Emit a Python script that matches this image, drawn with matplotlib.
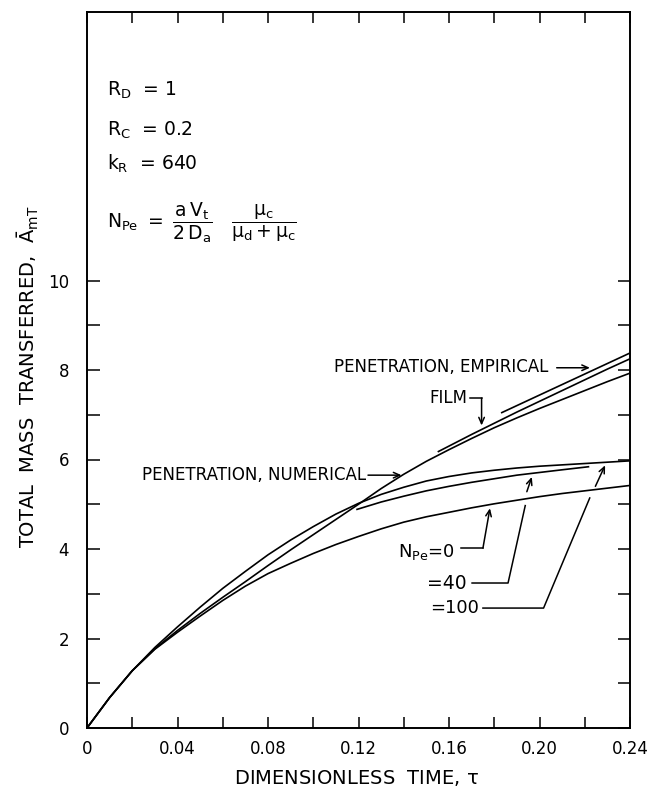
import matplotlib
matplotlib.use("Agg")
import matplotlib.pyplot as plt
import numpy as np

# ---------------- data ----------------
tau = [0.00, 0.01, 0.02, 0.03, 0.04, 0.05, 0.06, 0.07, 0.08, 0.09, 0.10, 0.11,
       0.12, 0.13, 0.14, 0.15, 0.16, 0.17, 0.18, 0.19, 0.20, 0.21, 0.22, 0.23, 0.24]
a_pe100 = [0.00, 0.68, 1.28, 1.80, 2.26, 2.70, 3.12, 3.50, 3.87, 4.20, 4.50, 4.78,
           5.02, 5.22, 5.38, 5.52, 5.62, 5.70, 5.76, 5.81, 5.85, 5.88, 5.91, 5.94, 5.97]
a_pen_num = [0.00, 0.68, 1.28, 1.77, 2.18, 2.56, 2.92, 3.27, 3.63, 3.98, 4.32, 4.66,
             5.00, 5.35, 5.67, 5.96, 6.22, 6.47, 6.71, 6.93, 7.14, 7.34, 7.54, 7.74, 7.93]
a_pe0 = [0.00, 0.68, 1.28, 1.76, 2.14, 2.50, 2.85, 3.17, 3.45, 3.68, 3.90, 4.10,
         4.28, 4.45, 4.60, 4.72, 4.82, 4.92, 5.01, 5.09, 5.17, 5.24, 5.30, 5.36, 5.42]
tau_pe40 = [0.119, 0.13, 0.14, 0.15, 0.16, 0.17, 0.18, 0.19, 0.20, 0.21, 0.222]
a_pe40 = [4.88, 5.05, 5.18, 5.30, 5.40, 5.49, 5.57, 5.65, 5.71, 5.77, 5.84]
tau_film = [0.155, 0.17, 0.18, 0.19, 0.20, 0.21, 0.22, 0.23, 0.24]
a_film = [6.17, 6.56, 6.81, 7.06, 7.30, 7.54, 7.78, 8.02, 8.25]
tau_emp = [0.183, 0.20, 0.22, 0.24]
a_emp = [7.04, 7.44, 7.91, 8.38]

x_ticks = [0.00, 0.02, 0.04, 0.06, 0.08, 0.10, 0.12, 0.14, 0.16, 0.18, 0.20, 0.22, 0.24]
x_labels = ["0", "", "0.04", "", "0.08", "", "0.12", "", "0.16", "", "0.20", "", "0.24"]
y_ticks = [0, 1, 2, 3, 4, 5, 6, 7, 8, 9, 10]
y_labels = ["0", "", "2", "", "4", "", "6", "", "8", "", "10"]

# ---------------- style ----------------
plt.rcParams["font.family"] = ["DejaVu Sans"]
plt.rcParams["mathtext.fontset"] = "custom"
plt.rcParams["mathtext.rm"] = "DejaVu Sans"
plt.rcParams["mathtext.it"] = "DejaVu Sans"
plt.rcParams["mathtext.bf"] = "DejaVu Sans:bold"

W, H = 653, 792
fig = plt.figure(figsize=(W / 100, H / 100), dpi=100)
ax = fig.add_axes([87 / W, 1 - 728 / H, (630 - 87) / W, (728 - 12) / H])

lw = 1.2
for xs, ys in [(tau, a_pe100), (tau, a_pen_num), (tau, a_pe0),
               (tau_pe40, a_pe40), (tau_film, a_film), (tau_emp, a_emp)]:
    ax.plot(xs, ys, color="black", lw=lw, solid_capstyle="butt")

ax.set_xlim(0, 0.24)
ax.set_ylim(0, 16)
ax.set_xticks(x_ticks)
ax.set_xticklabels(x_labels)
ax.set_yticks(y_ticks)
ax.set_yticklabels(y_labels)
ax.tick_params(direction="in", length=8, width=1.1, top=True, right=True,
               labelsize=12, pad=9)
ax.tick_params(axis="y", pad=13, length=9)
for s in ax.spines.values():
    s.set_linewidth(1.4)

fig.text(356 / W, 1 - 778 / H, r"DIMENSIONLESS  TIME, $\tau$", ha="center",
         va="center", fontsize=14)
fig.text(28 / W, 1 - 377 / H, r"TOTAL  MASS  TRANSFERRED,  $\bar{A}_{mT}$",
         rotation=90, ha="center", va="center", fontsize=14)

# parameter block
ax.text(0.0088, 14.24, r"$R_D$  = 1", fontsize=13.5, va="center", ha="left")
ax.text(0.0088, 13.35, r"$R_C$  = 0.2", fontsize=13.5, va="center", ha="left")
ax.text(0.0088, 12.61, r"$k_R$  = 640", fontsize=13.5, va="center", ha="left")
ax.text(0.0088, 11.30,
        r"$N_{Pe}\ =\ \dfrac{a\,V_t}{2\,D_a}\quad \dfrac{\mu_c}{\mu_d+\mu_c}$",
        fontsize=13.5, va="center", ha="left")

arrow = dict(arrowstyle="->,head_length=0.45,head_width=0.2", lw=1.1,
             color="black", shrinkA=0, shrinkB=0)
fs = 12

# Penetration, empirical
ax.text(0.2038, 8.06, "PENETRATION, EMPIRICAL", fontsize=fs, ha="right", va="center")
ax.annotate("", xy=(0.2223, 8.05), xytext=(0.2076, 8.05), arrowprops=arrow)
# Film
ax.text(0.168, 7.37, "FILM", fontsize=fs, ha="right", va="center")
ax.plot([0.1693, 0.1744], [7.37, 7.37], color="black", lw=1.1)
ax.annotate("", xy=(0.1744, 6.76), xytext=(0.1744, 7.37), arrowprops=arrow)
# Penetration, numerical
ax.text(0.1233, 5.65, "PENETRATION, NUMERICAL", fontsize=fs, ha="right", va="center")
ax.annotate("", xy=(0.139, 5.65), xytext=(0.1242, 5.65), arrowprops=arrow)
# N_Pe = 0
ax.text(0.1622, 3.93, r"$N_{Pe}$=0", fontsize=13, ha="right", va="center")
ax.plot([0.1653, 0.1750], [4.02, 4.02], color="black", lw=1.1)
ax.annotate("", xy=(0.1781, 4.91), xytext=(0.1750, 4.02), arrowprops=arrow)
# = 40
ax.text(0.168, 3.24, "=40", fontsize=13.5, ha="right", va="center")
ax.plot([0.1702, 0.1861, 0.1937], [3.24, 3.24, 4.97], color="black", lw=1.1)
ax.annotate("", xy=(0.1966, 5.61), xytext=(0.1944, 5.28), arrowprops=arrow)
# = 100
ax.text(0.1733, 2.68, "=100", fontsize=13, ha="right", va="center")
ax.plot([0.175, 0.2018, 0.2222], [2.68, 2.68, 5.14], color="black", lw=1.1)
ax.annotate("", xy=(0.229, 5.87), xytext=(0.2247, 5.40), arrowprops=arrow)

fig.savefig("out.png", dpi=100, facecolor="white")
